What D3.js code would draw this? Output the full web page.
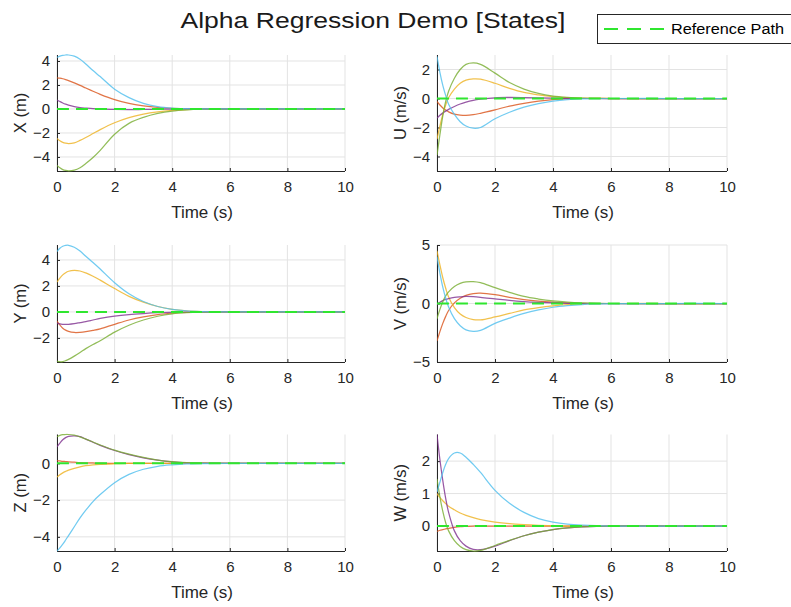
<!DOCTYPE html>
<html><head><meta charset="utf-8">
<script src="https://cdn.jsdelivr.net/npm/d3@7/dist/d3.min.js"></script>
<style>body{margin:0;background:#fff}svg{display:block;font-family:"Liberation Sans",Arial,Helvetica,sans-serif}</style>
</head><body><svg id="c" width="791" height="607"></svg>
<script>
// ---------------- data ----------------
const time = [0, 0.1, 0.2, 0.3, 0.4, 0.6, 0.8, 1, 1.25, 1.5, 2, 2.5, 3, 3.5, 4, 4.5, 5, 6, 8, 10];
const seriesColors = ["#D95319", "#EDB120", "#7E2F8E", "#77AC30", "#4DBEEE"];
const panelKeys = ["X", "U", "Y", "V", "Z", "W"];
const yLabels = ["X (m)", "U (m/s)", "Y (m)", "V (m/s)", "Z (m)", "W (m/s)"];
const yLimits = [[-5.17, 4.5], [-5, 3], [-3.85, 5.15], [-5, 5], [-4.77, 1.57], [-0.77, 2.82]];
const yTicks = [[-4, -2, 0, 2, 4], [-4, -2, 0, 2], [-2, 0, 2, 4], [-5, 0, 5], [-4, -2, 0], [0, 1, 2]];
const xTicks = [0, 2, 4, 6, 8, 10];
const xLabel = "Time (s)";
const titleText = "Alpha Regression Demo [States]";
const legendText = "Reference Path";
const referencePath = [0, 0, 0, 0, 0, 0, 0, 0, 0, 0, 0, 0, 0, 0, 0, 0, 0, 0, 0, 0];

// X (m)
const X_red    = [2.6, 2.57, 2.52, 2.45, 2.37, 2.18, 1.97, 1.75, 1.48, 1.22, 0.78, 0.46, 0.26, 0.13, 0.06, 0.02, 0.01, 0, 0, 0];
const X_yellow = [-2.45, -2.65, -2.78, -2.85, -2.88, -2.82, -2.62, -2.38, -2.05, -1.72, -1.15, -0.72, -0.43, -0.24, -0.12, -0.05, -0.02, 0, 0, 0];
const X_purple = [0.75, 0.62, 0.5, 0.4, 0.32, 0.2, 0.12, 0.07, 0.02, 0, -0.04, -0.05, -0.04, -0.03, -0.01, 0, 0, 0, 0, 0];
const X_green  = [-4.7, -4.9, -5.05, -5.12, -5.15, -5.1, -4.9, -4.55, -4.05, -3.45, -2.1, -1.2, -0.7, -0.37, -0.17, -0.07, -0.02, 0, 0, 0];
const X_cyan   = [4.3, 4.4, 4.47, 4.5, 4.5, 4.4, 4.15, 3.75, 3.2, 2.7, 1.65, 0.95, 0.47, 0.2, 0.07, 0.02, 0, 0, 0, 0];
// U (m/s)
const U_red    = [-0.2, -0.45, -0.65, -0.8, -0.92, -1.08, -1.15, -1.17, -1.12, -1.02, -0.78, -0.52, -0.33, -0.18, -0.08, -0.03, 0, 0, 0, 0];
const U_yellow = [-2.8, -1.9, -1.1, -0.45, 0.05, 0.65, 1.05, 1.27, 1.35, 1.33, 1.05, 0.7, 0.42, 0.25, 0.13, 0.06, 0.02, 0, 0, 0];
const U_purple = [-1.35, -1.15, -1.0, -0.87, -0.75, -0.55, -0.38, -0.25, -0.13, -0.05, 0.05, 0.07, 0.06, 0.04, 0.02, 0.01, 0, 0, 0, 0];
const U_green  = [-3.9, -2.5, -1.2, -0.2, 0.5, 1.4, 2.0, 2.35, 2.45, 2.35, 1.75, 1.1, 0.65, 0.35, 0.17, 0.08, 0.03, 0, 0, 0];
const U_cyan   = [2.9, 1.8, 0.9, 0.2, -0.4, -1.1, -1.6, -1.9, -2.05, -2.0, -1.4, -0.95, -0.6, -0.35, -0.18, -0.08, -0.03, 0, 0, 0];
// Y (m)
const Y_red    = [-0.7, -1.0, -1.25, -1.4, -1.5, -1.58, -1.57, -1.52, -1.42, -1.3, -0.95, -0.62, -0.38, -0.2, -0.1, -0.04, -0.01, 0, 0, 0];
const Y_yellow = [2.3, 2.6, 2.85, 3.02, 3.13, 3.2, 3.15, 3.0, 2.75, 2.45, 1.8, 1.2, 0.75, 0.42, 0.2, 0.08, 0.03, 0, 0, 0];
const Y_purple = [-0.85, -0.92, -0.95, -0.96, -0.95, -0.9, -0.82, -0.74, -0.62, -0.5, -0.32, -0.2, -0.12, -0.06, -0.03, -0.01, 0, 0, 0, 0];
const Y_green  = [-3.78, -3.83, -3.82, -3.75, -3.65, -3.4, -3.12, -2.82, -2.5, -2.22, -1.55, -1.02, -0.62, -0.33, -0.15, -0.06, -0.02, 0, 0, 0];
const Y_cyan   = [4.65, 4.9, 5.05, 5.12, 5.13, 4.98, 4.68, 4.28, 3.8, 3.3, 2.25, 1.4, 0.8, 0.42, 0.2, 0.08, 0.03, 0, 0, 0];
// V (m/s)
const V_red    = [-3.2, -2.4, -1.7, -1.1, -0.6, 0.05, 0.45, 0.7, 0.85, 0.88, 0.75, 0.52, 0.33, 0.2, 0.11, 0.05, 0.02, 0, 0, 0];
const V_yellow = [4.5, 3.3, 2.2, 1.3, 0.55, -0.35, -0.9, -1.2, -1.38, -1.4, -1.15, -0.85, -0.55, -0.35, -0.2, -0.1, -0.04, 0, 0, 0];
const V_purple = [-0.1, 0.1, 0.25, 0.35, 0.42, 0.52, 0.57, 0.6, 0.58, 0.53, 0.4, 0.27, 0.17, 0.1, 0.05, 0.02, 0, 0, 0, 0];
const V_green  = [-1.3, -0.5, 0.15, 0.65, 1.0, 1.45, 1.72, 1.85, 1.87, 1.78, 1.35, 0.95, 0.6, 0.38, 0.22, 0.12, 0.06, 0, 0, 0];
const V_cyan   = [4.0, 2.6, 1.4, 0.45, -0.3, -1.3, -1.9, -2.25, -2.38, -2.3, -1.7, -1.25, -0.85, -0.55, -0.32, -0.18, -0.09, -0.02, 0, 0];
// Z (m)
const Z_red    = [0.15, 0.13, 0.11, 0.1, 0.08, 0.06, 0.04, 0.03, 0.02, 0.01, 0, 0, 0, 0, 0, 0, 0, 0, 0, 0];
const Z_yellow = [-0.75, -0.62, -0.52, -0.44, -0.37, -0.27, -0.19, -0.13, -0.08, -0.05, -0.02, 0, 0, 0, 0, 0, 0, 0, 0, 0];
const Z_purple = [0.9, 1.1, 1.28, 1.4, 1.47, 1.5, 1.45, 1.32, 1.15, 0.98, 0.7, 0.48, 0.3, 0.17, 0.08, 0.03, 0.01, 0, 0, 0];
const Z_green  = [1.45, 1.52, 1.56, 1.57, 1.57, 1.53, 1.44, 1.32, 1.16, 1.0, 0.72, 0.5, 0.32, 0.18, 0.09, 0.04, 0.01, 0, 0, 0];
const Z_cyan   = [-4.77, -4.6, -4.4, -4.17, -3.93, -3.45, -2.97, -2.55, -2.08, -1.7, -1.05, -0.6, -0.32, -0.16, -0.08, -0.03, -0.01, 0, 0, 0];
// W (m/s)
const W_red    = [-0.17, -0.13, -0.11, -0.09, -0.07, -0.04, -0.02, -0.01, 0, 0, 0, 0, 0, 0, 0, 0, 0, 0, 0, 0];
const W_yellow = [1.0, 0.88, 0.78, 0.69, 0.61, 0.5, 0.4, 0.33, 0.26, 0.2, 0.12, 0.07, 0.04, 0.02, 0.01, 0, 0, 0, 0, 0];
const W_purple = [2.82, 2.05, 1.4, 0.85, 0.42, -0.15, -0.45, -0.62, -0.72, -0.73, -0.62, -0.45, -0.3, -0.19, -0.11, -0.06, -0.03, 0, 0, 0];
const W_green  = [1.45, 0.9, 0.45, 0.1, -0.15, -0.45, -0.63, -0.73, -0.77, -0.75, -0.6, -0.44, -0.3, -0.19, -0.11, -0.06, -0.03, 0, 0, 0];
const W_cyan   = [1.05, 1.35, 1.65, 1.9, 2.08, 2.25, 2.25, 2.12, 1.9, 1.65, 1.1, 0.7, 0.42, 0.23, 0.12, 0.06, 0.03, 0, 0, 0];

const panelSeries = [
  [X_red, X_yellow, X_purple, X_green, X_cyan],
  [U_red, U_yellow, U_purple, U_green, U_cyan],
  [Y_red, Y_yellow, Y_purple, Y_green, Y_cyan],
  [V_red, V_yellow, V_purple, V_green, V_cyan],
  [Z_red, Z_yellow, Z_purple, Z_green, Z_cyan],
  [W_red, W_yellow, W_purple, W_green, W_cyan]
];

// ---------------- layout ----------------
const colX = [[57, 345], [437, 727]];
const rowY = [[55, 171], [245, 362], [434.5, 551]];
const axisColor = "#262626";
const gridColor = "#e3e3e3";
const refColor = "#2fe62f";

const svg = d3.select("#c");
svg.append("rect").attr("width", 791).attr("height", 607).attr("fill", "#fff");

panelKeys.forEach((key, i) => {
  const col = i % 2, row = Math.floor(i / 2);
  const [x0, x1] = colX[col], [y0, y1] = rowY[row];
  const x = d3.scaleLinear().domain([0, 10]).range([x0, x1]);
  const y = d3.scaleLinear().domain(yLimits[i]).range([y1, y0]);
  const g = svg.append("g");

  const clipId = "clip" + i;
  svg.append("clipPath").attr("id", clipId).append("rect")
    .attr("x", x0).attr("y", y0 - 1).attr("width", x1 - x0).attr("height", y1 - y0 + 2);

  // grid
  g.append("g").selectAll("line").data(xTicks).join("line")
    .attr("x1", d => x(d)).attr("x2", d => x(d)).attr("y1", y0).attr("y2", y1)
    .attr("stroke", gridColor).attr("stroke-width", 1);
  g.append("g").selectAll("line").data(yTicks[i]).join("line")
    .attr("x1", x0).attr("x2", x1).attr("y1", d => y(d)).attr("y2", d => y(d))
    .attr("stroke", gridColor).attr("stroke-width", 1);

  // axes
  const ax = g.append("g").attr("transform", `translate(0,${y1})`)
    .call(d3.axisBottom(x).tickValues(xTicks).tickSizeInner(-3).tickSizeOuter(0).tickPadding(10).tickFormat(d3.format("d")));
  const ay = g.append("g").attr("transform", `translate(${x0},0)`)
    .call(d3.axisLeft(y).tickValues(yTicks[i]).tickSizeInner(-3).tickSizeOuter(0).tickPadding(10).tickFormat(d3.format("d")));
  [ax, ay].forEach(a => {
    a.select(".domain").attr("stroke", axisColor);
    a.selectAll(".tick line").attr("stroke", axisColor);
    a.selectAll(".tick text").attr("fill", axisColor).attr("font-size", 15)
      .attr("font-family", '"Liberation Sans",Arial,sans-serif');
  });
  ax.selectAll(".tick text").attr("dy", "0.76em");
  ay.selectAll(".tick text").attr("x", -7);
  ax.select(".domain").attr("d", `M${x0},0.5H${x1}`);
  ay.select(".domain").attr("d", `M0.5,${y0}V${y1}`);

  // labels
  g.append("text").attr("x", (x0 + x1) / 2 + 1).attr("y", y1 + 47)
    .attr("text-anchor", "middle").attr("font-size", 17).attr("fill", axisColor).text(xLabel);
  const lx = col === 0 ? 26 : 406;
  g.append("text").attr("transform", `translate(${lx},${(y0 + y1) / 2}) rotate(-90)`)
    .attr("text-anchor", "middle").attr("font-size", 16.5).attr("fill", axisColor).text(yLabels[i]);

  // data
  const line = d3.line().x((d, k) => x(time[k])).y(d => y(d)).curve(d3.curveCatmullRom.alpha(0.5));
  const dg = g.append("g").attr("clip-path", `url(#${clipId})`);
  panelSeries[i].forEach((s, j) => {
    dg.append("path").attr("d", line(s)).attr("fill", "none")
      .attr("stroke", seriesColors[j]).attr("stroke-width", 1.25).attr("stroke-opacity", 0.8);
  });
  dg.append("path").attr("d", line(referencePath)).attr("fill", "none")
    .attr("stroke", refColor).attr("stroke-width", 2).attr("stroke-dasharray", "12,7");
});

// title
svg.append("text").attr("x", 373).attr("y", 28).attr("text-anchor", "middle")
  .attr("font-size", 22).attr("fill", "#1a1a1a")
  .attr("textLength", 385).attr("lengthAdjust", "spacingAndGlyphs").text(titleText);

// legend
const lg = svg.append("g");
lg.append("rect").attr("x", 597.5).attr("y", 14.5).attr("width", 210).attr("height", 29)
  .attr("fill", "#fff").attr("stroke", axisColor).attr("stroke-width", 1);
lg.append("line").attr("x1", 604).attr("x2", 665).attr("y1", 29).attr("y2", 29)
  .attr("stroke", refColor).attr("stroke-width", 2).attr("stroke-dasharray", "14,9");
lg.append("text").attr("x", 671).attr("y", 34).attr("font-size", 14).attr("fill", "#000")
  .attr("textLength", 113).attr("lengthAdjust", "spacingAndGlyphs").text(legendText);
</script></body></html>
